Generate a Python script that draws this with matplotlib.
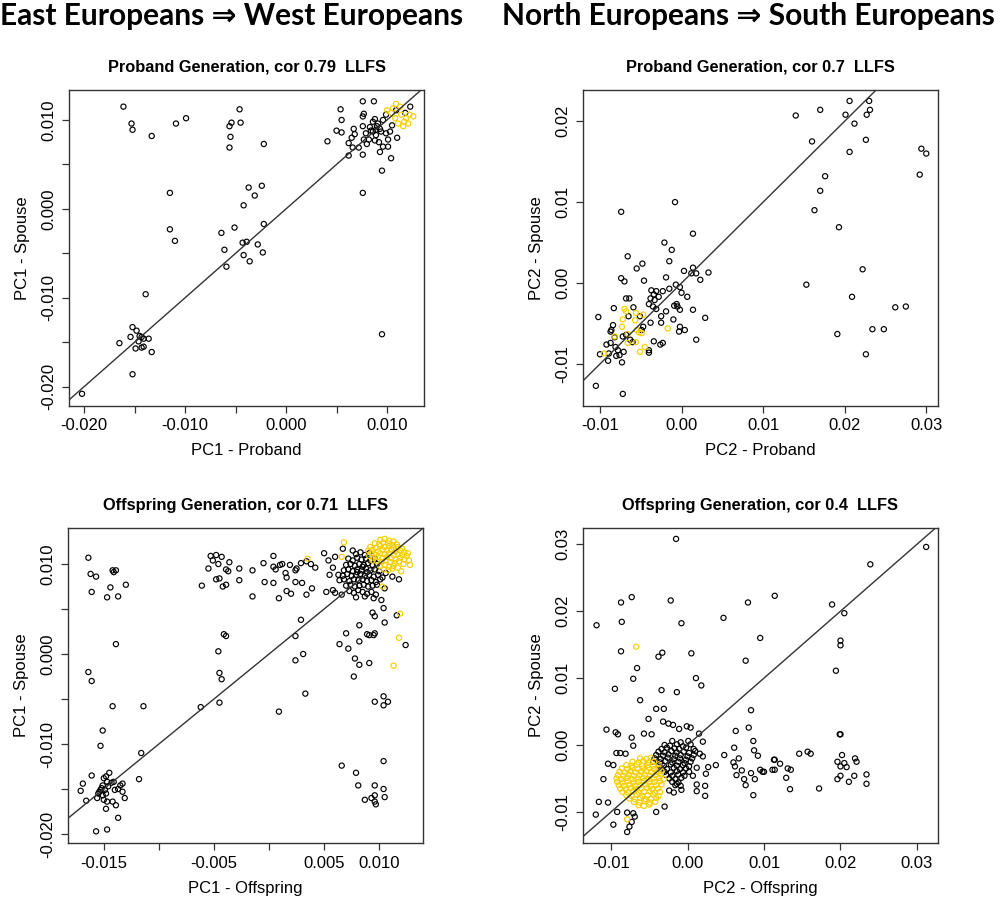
import matplotlib.pyplot as plt
import numpy as np

plt.rcParams['font.family'] = ['Liberation Sans', 'DejaVu Sans']

# ---------------- data ----------------
# PC1, proband generation
pc1_proband_black = [
    (-0.0161, 0.0115), (-0.0153, 0.0096), (-0.0152, 0.0089), (-0.0133, 0.0082),
    (-0.0109, 0.0096), (-0.0099, 0.0102), (-0.0046, 0.0112), (-0.0045, 0.0097),
    (-0.0054, 0.0097), (-0.0056, 0.0093), (-0.0055, 0.0081), (-0.0056, 0.0069),
    (-0.0022, 0.0073), (-0.0115, 0.0018), (-0.0115, -0.0023), (-0.0110, -0.0036),
    (-0.0037, 0.0024), (-0.0024, 0.0026), (-0.0031, 0.0015), (-0.0042, 0.0004),
    (-0.0022, -0.0017), (-0.0051, -0.0021), (-0.0064, -0.0027), (-0.0061, -0.0046),
    (-0.0059, -0.0065), (-0.0043, -0.0038), (-0.0039, -0.0037), (-0.0042, -0.0052),
    (-0.0036, -0.0059), (-0.0028, -0.0040), (-0.0023, -0.0049), (-0.0139, -0.0096),
    (0.0095, -0.0141), (0.0076, 0.0018), (0.0095, 0.0043), (0.0104, 0.0057),
    (-0.0152, -0.0133), (-0.0148, -0.0137), (-0.0154, -0.0144), (-0.0165, -0.0151),
    (-0.0145, -0.0143), (-0.0143, -0.0144), (-0.0141, -0.0146), (-0.0136, -0.0146),
    (-0.0146, -0.0149), (-0.0149, -0.0157), (-0.0143, -0.0156), (-0.0141, -0.0155),
    (-0.0133, -0.0161), (-0.0152, -0.0186), (-0.0202, -0.0208),
    (0.0054, 0.0112), (0.0055, 0.0100), (0.0050, 0.0088), (0.0055, 0.0086),
    (0.0041, 0.0076), (0.0062, 0.0060), (0.0067, 0.0090), (0.0068, 0.0084),
    (0.0065, 0.0080), (0.0062, 0.0074), (0.0066, 0.0069), (0.0072, 0.0069),
    (0.0076, 0.0121), (0.0087, 0.0121), (0.0076, 0.0104), (0.0077, 0.0107),
    (0.0076, 0.0093), (0.0079, 0.0085), (0.0077, 0.0078), (0.0076, 0.0061),
    (0.0080, 0.0073), (0.0082, 0.0078), (0.0083, 0.0092), (0.0086, 0.0098),
    (0.0088, 0.0101), (0.0089, 0.0089), (0.0090, 0.0093), (0.0091, 0.0096),
    (0.0093, 0.0090), (0.0094, 0.0087), (0.0088, 0.0077), (0.0092, 0.0075),
    (0.0096, 0.0070), (0.0093, 0.0064), (0.0101, 0.0070), (0.0099, 0.0085),
    (0.0101, 0.0078), (0.0096, 0.0100), (0.0099, 0.0106), (0.0103, 0.0087),
    (0.0110, 0.0080), (0.0105, 0.0094), (0.0109, 0.0111), (0.0123, 0.0115),
    (0.0118, 0.0108), (0.0086, 0.0087), (0.0089, 0.0083), (0.0084, 0.0088),
]
pc1_proband_yellow = [
    (0.0100, 0.0111), (0.0104, 0.0108), (0.0109, 0.0118), (0.0113, 0.0115),
    (0.0114, 0.0106), (0.0108, 0.0102), (0.0119, 0.0102), (0.0122, 0.0106),
    (0.0126, 0.0104), (0.0116, 0.0093), (0.0111, 0.0096), (0.0121, 0.0096),
    (0.0106, 0.0113), (0.0117, 0.0098),
]

# PC2, proband generation
pc2_proband_black = [
    (0.0140, 0.0207), (0.0160, 0.0175), (0.0170, 0.0214), (0.0201, 0.0208),
    (0.0206, 0.0225), (0.0212, 0.0197), (0.0206, 0.0162), (0.0227, 0.0208),
    (0.0230, 0.0225), (0.0231, 0.0214), (0.0226, 0.0177), (0.0294, 0.0166),
    (0.0300, 0.0160), (0.0292, 0.0134), (0.0176, 0.0132), (0.0170, 0.0114),
    (0.0163, 0.0090), (0.0193, 0.0069), (0.0222, 0.0017), (0.0153, -0.0002),
    (0.0209, -0.0017), (0.0262, -0.0030), (0.0275, -0.0029), (0.0234, -0.0057),
    (0.0248, -0.0057), (0.0191, -0.0063), (0.0226, -0.0088),
    (-0.0008, 0.0100), (-0.0074, 0.0088), (0.0014, 0.0061), (-0.0021, 0.0050),
    (-0.0012, 0.0041), (-0.0015, 0.0027), (-0.0066, 0.0033), (-0.0048, 0.0024),
    (-0.0055, 0.0018), (0.0003, 0.0015), (0.0014, 0.0019), (0.0018, 0.0012),
    (0.0012, 0.0012), (0.0023, 0.0004), (0.0033, 0.0013), (-0.0074, 0.0006),
    (-0.0070, 0.0002), (-0.0046, 0.0003), (-0.0019, 0.0007), (-0.0007, -0.0002),
    (-0.0002, -0.0005), (0.0000, -0.0012), (0.0007, -0.0017), (-0.0015, -0.0007),
    (-0.0023, -0.0010), (-0.0037, -0.0009), (-0.0034, -0.0014), (-0.0031, -0.0010),
    (-0.0038, -0.0019), (-0.0033, -0.0021), (-0.0028, -0.0017), (-0.0035, -0.0029),
    (-0.0031, -0.0032), (-0.0040, -0.0026), (-0.0006, -0.0026), (-0.0005, -0.0029),
    (-0.0002, -0.0033), (-0.0009, -0.0028), (0.0014, -0.0033), (-0.0019, -0.0035),
    (-0.0025, -0.0041), (-0.0010, -0.0045), (0.0029, -0.0043), (-0.0002, -0.0054),
    (0.0004, -0.0058), (-0.0003, -0.0060), (0.0018, -0.0070), (-0.0023, -0.0074),
    (-0.0026, -0.0076), (-0.0034, -0.0072), (-0.0040, -0.0086), (-0.0040, -0.0083),
    (-0.0038, -0.0049), (-0.0025, -0.0049), (-0.0047, -0.0054), (-0.0049, -0.0058),
    (-0.0051, -0.0041), (-0.0059, -0.0030), (-0.0068, -0.0019), (-0.0064, -0.0019),
    (-0.0083, -0.0031), (-0.0065, -0.0041), (-0.0084, -0.0052), (-0.0086, -0.0058),
    (-0.0087, -0.0060), (-0.0082, -0.0067), (-0.0072, -0.0066), (-0.0068, -0.0064),
    (-0.0063, -0.0070), (-0.0060, -0.0073), (-0.0092, -0.0076), (-0.0087, -0.0074),
    (-0.0081, -0.0079), (-0.0078, -0.0083), (-0.0071, -0.0085), (-0.0080, -0.0090),
    (-0.0076, -0.0089), (-0.0089, -0.0087), (-0.0090, -0.0096), (-0.0073, -0.0098),
    (-0.0102, -0.0042), (-0.0105, -0.0127), (-0.0072, -0.0137), (-0.0100, -0.0088),
]
pc2_proband_yellow = [
    (-0.0070, -0.0032), (-0.0068, -0.0035), (-0.0072, -0.0045), (-0.0057, -0.0046),
    (-0.0056, -0.0037), (-0.0047, -0.0039), (-0.0073, -0.0054), (-0.0082, -0.0066),
    (-0.0066, -0.0063), (-0.0055, -0.0058), (-0.0052, -0.0061), (-0.0049, -0.0062),
    (-0.0056, -0.0073), (-0.0051, -0.0085), (-0.0045, -0.0079), (-0.0095, -0.0087),
    (-0.0017, -0.0056), (-0.0066, -0.0074),
]

# PC1, offspring generation
pc1_offspring_black = [
    (-0.0164, 0.0107), (-0.0162, 0.0089), (-0.0157, 0.0086), (-0.0161, 0.0069),
    (-0.0142, 0.0093), (-0.0139, 0.0093), (-0.0141, 0.0091), (-0.0144, 0.0074),
    (-0.0147, 0.0063), (-0.0137, 0.0064), (-0.0130, 0.0077), (-0.0139, 0.0011),
    (-0.0164, -0.0020), (-0.0161, -0.0030), (-0.0142, -0.0058), (-0.0114, -0.0058),
    (-0.0151, -0.0085), (-0.0153, -0.0102), (-0.0116, -0.0110), (-0.0118, -0.0139),
    (-0.0161, -0.0135), (-0.0169, -0.0144), (-0.0171, -0.0152), (-0.0166, -0.0163),
    (-0.0156, -0.0160), (-0.0154, -0.0153), (-0.0152, -0.0149), (-0.0151, -0.0146),
    (-0.0149, -0.0151), (-0.0148, -0.0155), (-0.0151, -0.0157), (-0.0150, -0.0138),
    (-0.0148, -0.0136), (-0.0145, -0.0132), (-0.0147, -0.0142), (-0.0143, -0.0143),
    (-0.0141, -0.0142), (-0.0140, -0.0151), (-0.0137, -0.0150), (-0.0135, -0.0146),
    (-0.0133, -0.0144), (-0.0133, -0.0153), (-0.0131, -0.0160), (-0.0142, -0.0164),
    (-0.0139, -0.0168), (-0.0148, -0.0172), (-0.0150, -0.0162), (-0.0147, -0.0164),
    (-0.0157, -0.0197), (-0.0147, -0.0195), (-0.0137, -0.0182), (-0.0155, -0.0155),
    (-0.0153, -0.0151), (-0.0146, -0.0147),
    (-0.0061, 0.0076), (-0.0055, 0.0095), (-0.0053, 0.0109), (-0.0051, 0.0104),
    (-0.0048, 0.0110), (-0.0043, 0.0108), (-0.0046, 0.0100), (-0.0036, 0.0102),
    (-0.0048, 0.0083), (-0.0045, 0.0084), (-0.0042, 0.0075), (-0.0039, 0.0077),
    (-0.0039, 0.0094), (-0.0037, 0.0092), (-0.0027, 0.0082), (-0.0027, 0.0095),
    (-0.0015, 0.0093), (-0.0015, 0.0064), (-0.0005, 0.0101), (-0.0004, 0.0080),
    (0.0004, 0.0109), (0.0004, 0.0097), (0.0004, 0.0079), (0.0006, 0.0094),
    (0.0010, 0.0099), (0.0012, 0.0100), (0.0009, 0.0062), (0.0015, 0.0090),
    (0.0016, 0.0085), (0.0016, 0.0070), (0.0020, 0.0067), (0.0019, 0.0099),
    (0.0024, 0.0093), (0.0025, 0.0095), (0.0029, 0.0101), (0.0024, 0.0080),
    (0.0030, 0.0079), (0.0034, 0.0103), (0.0038, 0.0100), (0.0042, 0.0096),
    (0.0039, 0.0073), (0.0034, 0.0066), (0.0050, 0.0112), (0.0054, 0.0104),
    (0.0052, 0.0069), (0.0060, 0.0108), (0.0058, 0.0096), (0.0055, 0.0088),
    (0.0058, 0.0071), (0.0060, 0.0068), (0.0066, 0.0066), (0.0067, 0.0117),
    (-0.0041, 0.0022), (-0.0039, 0.0020), (-0.0046, 0.0003), (-0.0045, -0.0021),
    (-0.0043, -0.0028), (-0.0045, -0.0054), (-0.0062, -0.0059), (0.0009, -0.0064),
    (0.0024, 0.0020), (0.0029, 0.0038), (0.0024, -0.0007), (0.0031, 0.0000),
    (0.0033, -0.0044), (0.0064, 0.0011), (0.0070, 0.0023), (0.0072, 0.0006),
    (0.0077, -0.0025), (0.0078, -0.0005), (0.0082, 0.0032), (0.0082, 0.0014),
    (0.0082, -0.0012), (0.0089, 0.0022), (0.0091, -0.0010), (0.0091, 0.0021),
    (0.0095, 0.0021), (0.0096, 0.0023), (0.0094, 0.0046), (0.0096, 0.0042),
    (0.0104, 0.0051), (0.0105, 0.0035), (0.0116, 0.0043), (0.0124, 0.0010),
    (0.0096, -0.0053), (0.0104, -0.0047), (0.0108, -0.0053), (0.0104, -0.0057),
    (0.0066, -0.0124), (0.0079, -0.0132), (0.0081, -0.0146), (0.0104, -0.0119),
    (0.0096, -0.0146), (0.0104, -0.0150), (0.0105, -0.0159), (0.0087, -0.0162),
    (0.0093, -0.0160), (0.0096, -0.0157), (0.0096, -0.0164), (0.0097, -0.0167),
    (0.0076, 0.0115), (0.0079, 0.0111), (0.0083, 0.0113), (0.0087, 0.0110),
    (0.0091, 0.0112), (0.0072, 0.0106), (0.0076, 0.0104), (0.0080, 0.0107),
    (0.0084, 0.0105), (0.0088, 0.0106), (0.0092, 0.0104), (0.0096, 0.0106),
    (0.0070, 0.0099), (0.0074, 0.0100), (0.0078, 0.0098), (0.0082, 0.0100),
    (0.0086, 0.0099), (0.0090, 0.0101), (0.0094, 0.0099), (0.0098, 0.0100),
    (0.0068, 0.0093), (0.0072, 0.0094), (0.0076, 0.0092), (0.0080, 0.0094),
    (0.0084, 0.0093), (0.0088, 0.0095), (0.0092, 0.0093), (0.0096, 0.0094),
    (0.0100, 0.0092), (0.0063, 0.0088), (0.0067, 0.0087), (0.0071, 0.0089),
    (0.0075, 0.0087), (0.0079, 0.0088), (0.0083, 0.0089), (0.0087, 0.0087),
    (0.0091, 0.0088), (0.0095, 0.0086), (0.0099, 0.0088), (0.0103, 0.0085),
    (0.0064, 0.0082), (0.0068, 0.0083), (0.0073, 0.0081), (0.0077, 0.0083),
    (0.0081, 0.0082), (0.0085, 0.0083), (0.0089, 0.0081), (0.0093, 0.0082),
    (0.0097, 0.0080), (0.0101, 0.0083), (0.0070, 0.0076), (0.0074, 0.0077),
    (0.0078, 0.0075), (0.0082, 0.0076), (0.0086, 0.0077), (0.0090, 0.0075),
    (0.0094, 0.0076), (0.0098, 0.0077), (0.0073, 0.0070), (0.0077, 0.0068),
    (0.0081, 0.0071), (0.0085, 0.0069), (0.0089, 0.0067), (0.0093, 0.0069),
    (0.0097, 0.0066), (0.0079, 0.0063), (0.0087, 0.0064), (0.0095, 0.0062),
    (0.0102, 0.0060), (0.0105, 0.0073), (0.0106, 0.0090), (0.0080, 0.0091),
    (0.0085, 0.0097), (0.0089, 0.0091), (0.0112, 0.0086), (0.0118, 0.0083),
]
pc1_offspring_yellow = [
    (0.0068, 0.0124), (0.0066, 0.0108), (0.0035, 0.0106), (0.0119, 0.0045),
    (0.0118, 0.0018), (0.0113, -0.0013), (0.0103, 0.0075), (0.0128, 0.0099),
    (0.0101, 0.0127), (0.0105, 0.0128), (0.0109, 0.0126), (0.0113, 0.0125),
    (0.0096, 0.0123), (0.0100, 0.0122), (0.0104, 0.0124), (0.0108, 0.0123),
    (0.0112, 0.0121), (0.0116, 0.0122), (0.0092, 0.0119), (0.0097, 0.0118),
    (0.0101, 0.0120), (0.0105, 0.0119), (0.0109, 0.0120), (0.0113, 0.0118),
    (0.0117, 0.0119), (0.0121, 0.0117), (0.0090, 0.0115), (0.0094, 0.0116),
    (0.0099, 0.0114), (0.0103, 0.0116), (0.0107, 0.0115), (0.0111, 0.0116),
    (0.0115, 0.0114), (0.0119, 0.0115), (0.0123, 0.0113), (0.0093, 0.0112),
    (0.0097, 0.0110), (0.0101, 0.0112), (0.0105, 0.0111), (0.0109, 0.0112),
    (0.0113, 0.0110), (0.0117, 0.0111), (0.0121, 0.0110), (0.0125, 0.0109),
    (0.0095, 0.0107), (0.0099, 0.0108), (0.0103, 0.0106), (0.0107, 0.0108),
    (0.0111, 0.0107), (0.0115, 0.0105), (0.0119, 0.0107), (0.0123, 0.0105),
    (0.0098, 0.0103), (0.0102, 0.0102), (0.0106, 0.0104), (0.0110, 0.0102),
    (0.0114, 0.0101), (0.0118, 0.0103), (0.0122, 0.0100), (0.0101, 0.0098),
    (0.0105, 0.0099), (0.0109, 0.0097), (0.0113, 0.0098), (0.0117, 0.0096),
    (0.0104, 0.0094), (0.0108, 0.0093), (0.0112, 0.0095), (0.0120, 0.0092),
    (0.0094, 0.0104), (0.0091, 0.0109), (0.0126, 0.0112), (0.0127, 0.0104),
]

# PC2, offspring generation
pc2_offspring_black = [
    (-0.0119, 0.0179), (-0.0087, 0.0213), (-0.0073, 0.0221), (-0.0086, 0.0184),
    (-0.0022, 0.0216), (-0.0015, 0.0308), (-0.0008, 0.0182), (0.0047, 0.0190),
    (0.0079, 0.0213), (0.0114, 0.0223), (0.0095, 0.0160), (0.0076, 0.0126),
    (0.0189, 0.0210), (0.0205, 0.0197), (0.0200, 0.0156), (0.0200, 0.0149),
    (0.0194, 0.0111), (0.0239, 0.0270), (0.0312, 0.0296), (-0.0087, 0.0140),
    (-0.0038, 0.0132), (-0.0033, 0.0138), (0.0005, 0.0137), (-0.0066, 0.0115),
    (-0.0071, 0.0099), (-0.0095, 0.0084), (-0.0034, 0.0082), (-0.0014, 0.0079),
    (0.0011, 0.0100), (0.0018, 0.0089), (-0.0062, 0.0067), (-0.0041, 0.0054),
    (-0.0031, 0.0054), (-0.0051, 0.0039), (0.0083, 0.0052), (0.0080, 0.0026),
    (0.0063, 0.0021), (-0.0106, 0.0023), (-0.0094, 0.0019), (-0.0091, 0.0016),
    (-0.0073, 0.0011), (-0.0071, -0.0001), (-0.0057, 0.0017), (-0.0047, 0.0016),
    (-0.0032, 0.0035), (-0.0025, 0.0032), (-0.0019, 0.0030), (-0.0011, 0.0024),
    (-0.0001, 0.0028), (0.0004, 0.0026), (0.0015, 0.0017), (0.0020, 0.0005),
    (0.0086, 0.0006), (0.0087, -0.0008), (0.0061, -0.0004), (0.0092, -0.0016),
    (0.0048, -0.0015), (0.0037, -0.0030), (0.0067, -0.0020), (0.0060, -0.0026),
    (0.0062, -0.0032), (0.0064, -0.0045), (0.0071, -0.0038), (0.0074, -0.0051),
    (0.0076, -0.0060), (0.0083, -0.0042), (0.0088, -0.0051), (0.0086, -0.0075),
    (0.0095, -0.0037), (0.0098, -0.0040), (0.0100, -0.0040), (0.0113, -0.0022),
    (0.0114, -0.0022), (0.0111, -0.0037), (0.0114, -0.0037), (0.0121, -0.0028),
    (0.0129, -0.0049), (0.0131, -0.0035), (0.0135, -0.0037), (0.0134, -0.0066),
    (0.0146, -0.0013), (0.0157, -0.0010), (0.0161, -0.0013), (0.0172, -0.0065),
    (0.0199, 0.0016), (0.0200, 0.0016), (0.0202, -0.0015), (0.0196, -0.0025),
    (0.0200, -0.0032), (0.0205, -0.0027), (0.0208, -0.0033), (0.0200, -0.0046),
    (0.0196, -0.0051), (0.0211, -0.0055), (0.0218, -0.0046), (0.0219, -0.0020),
    (0.0221, -0.0025), (0.0234, -0.0044), (0.0234, -0.0058),
    (0.0012, -0.0034), (0.0007, -0.0046), (0.0012, -0.0059), (0.0012, -0.0069),
    (0.0023, -0.0076), (0.0023, -0.0061), (0.0024, -0.0043), (0.0027, -0.0033),
    (0.0016, -0.0013), (0.0020, -0.0017), (-0.0008, -0.0067), (-0.0018, -0.0071),
    (-0.0024, -0.0068), (-0.0014, -0.0058), (-0.0120, -0.0104), (-0.0116, -0.0085),
    (-0.0104, -0.0086), (-0.0097, -0.0119), (-0.0092, -0.0100), (-0.0079, -0.0130),
    (-0.0076, -0.0122), (-0.0073, -0.0115), (-0.0071, -0.0102), (-0.0069, -0.0107),
    (-0.0079, -0.0101), (-0.0041, -0.0100), (-0.0030, -0.0092), (-0.0110, -0.0051),
    (-0.0104, -0.0028), (-0.0097, -0.0030), (-0.0093, -0.0012), (-0.0088, -0.0012),
    (-0.0081, -0.0013),
    (-0.0020, 0.0006), (-0.0009, 0.0004), (0.0001, 0.0006), (-0.0030, 0.0000),
    (-0.0023, -0.0001), (-0.0014, 0.0001), (-0.0006, -0.0002), (0.0004, 0.0001),
    (-0.0034, -0.0006), (-0.0027, -0.0004), (-0.0017, -0.0005), (-0.0011, -0.0006),
    (-0.0002, -0.0004), (0.0008, -0.0006), (-0.0038, -0.0010), (-0.0030, -0.0011),
    (-0.0021, -0.0009), (-0.0014, -0.0011), (-0.0005, -0.0010), (0.0002, -0.0012),
    (0.0010, -0.0009), (-0.0041, -0.0015), (-0.0032, -0.0016), (-0.0025, -0.0014),
    (-0.0016, -0.0016), (-0.0009, -0.0015), (0.0000, -0.0017), (0.0008, -0.0015),
    (-0.0043, -0.0020), (-0.0035, -0.0021), (-0.0026, -0.0019), (-0.0018, -0.0021),
    (-0.0010, -0.0020), (-0.0002, -0.0022), (0.0006, -0.0020), (-0.0045, -0.0025),
    (-0.0036, -0.0026), (-0.0029, -0.0024), (-0.0020, -0.0026), (-0.0012, -0.0025),
    (-0.0004, -0.0027), (0.0004, -0.0025), (-0.0038, -0.0030), (-0.0031, -0.0031),
    (-0.0022, -0.0029), (-0.0014, -0.0031), (-0.0006, -0.0030), (0.0002, -0.0032),
    (-0.0034, -0.0035), (-0.0027, -0.0036), (-0.0018, -0.0034), (-0.0010, -0.0036),
    (-0.0002, -0.0035), (-0.0030, -0.0040), (-0.0022, -0.0041), (-0.0014, -0.0039),
    (-0.0006, -0.0041), (0.0002, -0.0040), (-0.0028, -0.0045), (-0.0020, -0.0046),
    (-0.0012, -0.0044), (-0.0004, -0.0046), (-0.0024, -0.0050), (-0.0016, -0.0051),
    (-0.0008, -0.0049), (-0.0020, -0.0055), (-0.0012, -0.0056), (-0.0016, -0.0060),
    (-0.0009, -0.0061),
]
pc2_offspring_yellow = [
    (-0.0067, 0.0147), (-0.0079, -0.0111),
    (-0.0062, -0.0020), (-0.0054, -0.0021), (-0.0048, -0.0019),
    (-0.0072, -0.0025), (-0.0064, -0.0026), (-0.0058, -0.0024), (-0.0051, -0.0026),
    (-0.0044, -0.0025), (-0.0080, -0.0030), (-0.0073, -0.0031), (-0.0066, -0.0029),
    (-0.0059, -0.0031), (-0.0052, -0.0030), (-0.0045, -0.0031), (-0.0038, -0.0029),
    (-0.0086, -0.0035), (-0.0079, -0.0036), (-0.0072, -0.0034), (-0.0065, -0.0036),
    (-0.0058, -0.0035), (-0.0051, -0.0034), (-0.0044, -0.0036), (-0.0037, -0.0035),
    (-0.0089, -0.0040), (-0.0082, -0.0041), (-0.0075, -0.0039), (-0.0068, -0.0041),
    (-0.0061, -0.0040), (-0.0054, -0.0039), (-0.0047, -0.0041), (-0.0040, -0.0040),
    (-0.0034, -0.0039), (-0.0091, -0.0045), (-0.0084, -0.0046), (-0.0077, -0.0044),
    (-0.0070, -0.0046), (-0.0063, -0.0045), (-0.0056, -0.0044), (-0.0049, -0.0046),
    (-0.0042, -0.0045), (-0.0035, -0.0044), (-0.0093, -0.0050), (-0.0086, -0.0051),
    (-0.0079, -0.0049), (-0.0072, -0.0051), (-0.0065, -0.0050), (-0.0058, -0.0049),
    (-0.0051, -0.0051), (-0.0044, -0.0050), (-0.0037, -0.0049), (-0.0031, -0.0051),
    (-0.0092, -0.0055), (-0.0085, -0.0056), (-0.0078, -0.0054), (-0.0071, -0.0056),
    (-0.0064, -0.0055), (-0.0057, -0.0054), (-0.0050, -0.0056), (-0.0043, -0.0055),
    (-0.0036, -0.0054), (-0.0090, -0.0060), (-0.0083, -0.0061), (-0.0076, -0.0059),
    (-0.0069, -0.0061), (-0.0062, -0.0060), (-0.0055, -0.0059), (-0.0048, -0.0061),
    (-0.0041, -0.0060), (-0.0034, -0.0059), (-0.0088, -0.0065), (-0.0081, -0.0066),
    (-0.0074, -0.0064), (-0.0067, -0.0066), (-0.0060, -0.0065), (-0.0053, -0.0064),
    (-0.0046, -0.0066), (-0.0039, -0.0065), (-0.0085, -0.0070), (-0.0078, -0.0071),
    (-0.0071, -0.0069), (-0.0064, -0.0071), (-0.0057, -0.0070), (-0.0050, -0.0069),
    (-0.0043, -0.0071), (-0.0036, -0.0070), (-0.0080, -0.0075), (-0.0073, -0.0076),
    (-0.0066, -0.0074), (-0.0059, -0.0076), (-0.0052, -0.0075), (-0.0045, -0.0074),
    (-0.0038, -0.0076), (-0.0076, -0.0080), (-0.0069, -0.0081), (-0.0062, -0.0079),
    (-0.0055, -0.0081), (-0.0048, -0.0080), (-0.0041, -0.0079), (-0.0070, -0.0085),
    (-0.0063, -0.0086), (-0.0056, -0.0084), (-0.0049, -0.0086), (-0.0042, -0.0085),
    (-0.0064, -0.0090), (-0.0057, -0.0091), (-0.0050, -0.0089),
]

ticks_pc1 = [-0.020, -0.015, -0.010, -0.005, 0.000, 0.005, 0.010]
labels_pc1 = ['-0.020', '', '-0.010', '', '0.000', '', '0.010']
ticks_pc1_off_x = [-0.015, -0.010, -0.005, 0.000, 0.005, 0.010]
labels_pc1_off_x = ['-0.015', '', '-0.005', '', '0.005', '0.010']
ticks_pc2_prob_x = [-0.01, 0.00, 0.01, 0.02, 0.03]
ticks_pc2_prob_y = [-0.01, 0.00, 0.01, 0.02]
ticks_pc2_off = [-0.01, 0.00, 0.01, 0.02, 0.03]


def fmt2(v):
    return ['%.2f' % t for t in v]


def panel(rect, black, yellow, xlim, ylim, xt, xl, yt, yl, title, xlabel, ylabel):
    ax = fig.add_axes(rect)
    b = np.array(black)
    y = np.array(yellow)
    ax.scatter(b[:, 0], b[:, 1], s=14, facecolors='none', edgecolors='black',
               linewidths=0.85, zorder=2)
    ax.scatter(y[:, 0], y[:, 1], s=14, facecolors='none', edgecolors='#f5cf00',
               linewidths=0.85, zorder=3)
    ax.axline((0, 0), slope=1, color='#333333', lw=1.0, zorder=4)
    ax.set_xlim(xlim)
    ax.set_ylim(ylim)
    ax.set_xticks(xt)
    ax.set_xticklabels(xl)
    ax.set_yticks(yt)
    ax.set_yticklabels(yl, rotation=90, va='center')
    ax.tick_params(direction='out', length=5, width=0.9, colors='#333333',
                   labelcolor='black', labelsize=12, pad=4)
    for s in ax.spines.values():
        s.set_color('#333333')
        s.set_linewidth(1.0)
    ax.set_title(title, fontsize=11.8, fontweight='bold', pad=13)
    ax.set_xlabel(xlabel, fontsize=12, labelpad=7)
    ax.set_ylabel(ylabel, fontsize=12, labelpad=8)
    return ax


fig = plt.figure(figsize=(10, 9.02), dpi=100)

panel([0.069, 0.5499, 0.355, 0.3503], pc1_proband_black, pc1_proband_yellow,
      (-0.02149, 0.01366), (-0.02217, 0.01337), ticks_pc1, labels_pc1,
      ticks_pc1, labels_pc1, 'Proband Generation, cor 0.79  LLFS',
      'PC1 - Proband', 'PC1 - Spouse')
panel([0.583, 0.5499, 0.355, 0.3503], pc2_proband_black, pc2_proband_yellow,
      (-0.01208, 0.03144), (-0.01519, 0.02385), ticks_pc2_prob_x, fmt2(ticks_pc2_prob_x),
      ticks_pc2_prob_y, fmt2(ticks_pc2_prob_y), 'Proband Generation, cor 0.7  LLFS',
      'PC2 - Proband', 'PC2 - Spouse')
panel([0.068, 0.065, 0.355, 0.350], pc1_offspring_black, pc1_offspring_yellow,
      (-0.01825, 0.01398), (-0.02104, 0.01404), ticks_pc1_off_x, labels_pc1_off_x,
      ticks_pc1, labels_pc1, 'Offspring Generation, cor 0.71  LLFS',
      'PC1 - Offspring', 'PC1 - Spouse')
panel([0.583, 0.065, 0.355, 0.350], pc2_offspring_black, pc2_offspring_yellow,
      (-0.01367, 0.03275), (-0.0147, 0.03248), ticks_pc2_off, fmt2(ticks_pc2_off),
      ticks_pc2_off, fmt2(ticks_pc2_off), 'Offspring Generation, cor 0.4  LLFS',
      'PC2 - Offspring', 'PC2 - Spouse')

hdr = dict(fontsize=21.5, fontweight='bold', family=['Lato', 'DejaVu Sans'], va='center')
fig.text(0.0, 0.982, 'East Europeans \u21d2 West Europeans', ha='left', **hdr)
fig.text(0.502, 0.982, 'North Europeans \u21d2 South Europeans', ha='left', **hdr)

fig.savefig('out.png', dpi=100)
